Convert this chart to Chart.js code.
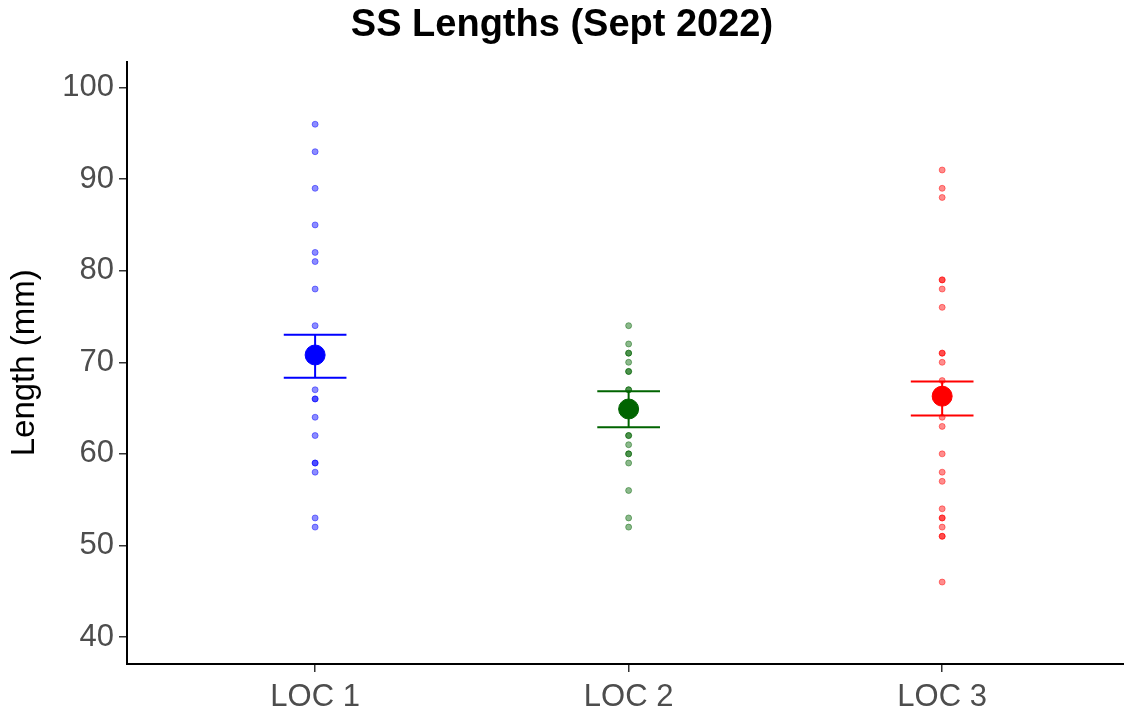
<!DOCTYPE html>
<html>
<head>
<meta charset="utf-8">
<script src="https://cdn.jsdelivr.net/npm/chart.js@4.4.1/dist/chart.umd.min.js"></script>
<style>
html,body{margin:0;padding:0;background:#fff;}
#wrap{width:1124px;height:717px;position:relative;}
</style>
</head>
<body>
<div id="wrap"><canvas id="c"></canvas></div>
<script>
const categories = ["LOC 1", "LOC 2", "LOC 3"];
const loc1Values = [96,93,89,85,82,81,78,74,67,66,66,64,62,59,59,58,53,52];
const loc2Values = [74,72,71,71,70,69,69,67,67,62,62,61,60,60,59,56,53,52];
const loc3Values = [91,89,88,79,79,78,76,71,71,70,68,64,63,60,58,57,54,53,53,52,51,51,46];
const means = [70.8, 64.9, 66.3];
const errLow = [68.3, 62.9, 64.2];
const errHigh = [73.0, 66.85, 67.9];
const yTicks = [40,50,60,70,80,90,100];

const solid = ["#0000FF", "#006400", "#FF0000"];
const faded = ["rgba(0,0,255,0.45)", "rgba(0,100,0,0.45)", "rgba(255,0,0,0.45)"];
const capHalf = 0.1;
const FONT = "'Liberation Sans', Arial, sans-serif";

const allValues = [loc1Values, loc2Values, loc3Values];
const datasets = [];
allValues.forEach((vals, i) => {
  datasets.push({
    type: 'scatter',
    data: vals.map(v => ({x: i, y: v})),
    pointRadius: 3,
    pointBackgroundColor: faded[i],
    pointBorderColor: faded[i],
    pointBorderWidth: 1,
    order: 3
  });
});
means.forEach((m, i) => {
  datasets.push({
    type: 'scatter',
    showLine: true,
    spanGaps: false,
    data: [
      {x: i - capHalf, y: errHigh[i]}, {x: i + capHalf, y: errHigh[i]}, {x: i, y: null},
      {x: i, y: errHigh[i]}, {x: i, y: errLow[i]}, {x: i, y: null},
      {x: i - capHalf, y: errLow[i]}, {x: i + capHalf, y: errLow[i]}
    ],
    borderColor: solid[i],
    borderWidth: 2,
    pointRadius: 0,
    order: 2
  });
  datasets.push({
    type: 'scatter',
    data: [{x: i, y: m}],
    pointRadius: 10,
    pointBackgroundColor: solid[i],
    pointBorderColor: solid[i],
    order: 1
  });
});

new Chart(document.getElementById('c'), {
  type: 'scatter',
  data: { datasets },
  options: {
    responsive: true,
    maintainAspectRatio: false,
    animation: false,
    layout: { autoPadding: false, padding: { left: 0, right: 0, top: 0, bottom: 0 } },
    plugins: {
      legend: { display: false },
      tooltip: { enabled: false },
      title: {
        display: true,
        text: "SS Lengths (Sept 2022)",
        color: '#000',
        font: { family: FONT, size: 38, weight: 'bold' },
        padding: { top: 3, bottom: 13 }
      }
    },
    scales: {
      x: {
        type: 'linear',
        min: -0.6,
        max: 2.58,
        afterBuildTicks: s => { s.ticks = categories.map((c, i) => ({value: i})); },
        afterFit: s => { s.height = 53; },
        ticks: {
          callback: v => categories[v],
          color: '#4d4d4d',
          font: { family: FONT, size: 31 },
          padding: 7,
          maxRotation: 0
        },
        grid: { display: true, drawOnChartArea: false, drawTicks: true, tickLength: 8, color: '#333', lineWidth: 1.5 },
        border: { display: true, color: '#000', width: 2 }
      },
      y: {
        type: 'linear',
        min: 37.05,
        max: 102.84,
        afterBuildTicks: s => { s.ticks = yTicks.map(v => ({value: v})); },
        afterFit: s => { s.width = 127; },
        ticks: {
          color: '#4d4d4d',
          font: { family: FONT, size: 31 },
          padding: 5
        },
        title: {
          display: true,
          text: "Length (mm)",
          color: '#000',
          font: { family: FONT, size: 33 },
          padding: { top: 5, bottom: 0 }
        },
        grid: { display: true, drawOnChartArea: false, drawTicks: true, tickLength: 8, color: '#333', lineWidth: 1.5 },
        border: { display: true, color: '#000', width: 2 }
      }
    }
  }
});
</script>
</body>
</html>
